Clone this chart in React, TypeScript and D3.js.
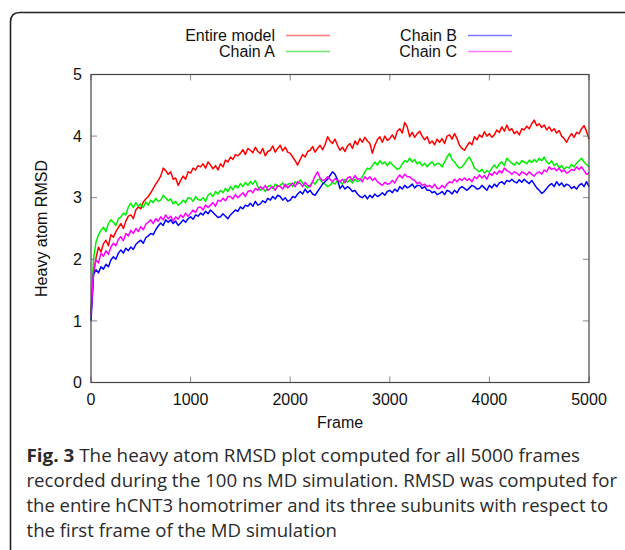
import React from 'react';
import * as d3 from 'd3';

const FRAME_STEP = 25;

const entireModel = [
  1.10, 1.75, 2.02, 2.20, 2.12, 2.25, 2.31, 2.22, 2.40, 2.36, 2.45, 2.52, 2.58, 2.50, 2.62, 2.70, 2.72, 2.66, 2.80, 2.85,
  2.82, 2.93, 2.98, 3.02, 3.08, 3.15, 3.22, 3.28, 3.35, 3.48, 3.44, 3.38, 3.42, 3.30, 3.32, 3.20, 3.28, 3.35, 3.30, 3.42,
  3.40, 3.48, 3.45, 3.52, 3.50, 3.55, 3.48, 3.58, 3.53, 3.47, 3.52, 3.45, 3.55, 3.50, 3.61, 3.58, 3.66, 3.62, 3.70, 3.68,
  3.72, 3.78, 3.70, 3.80, 3.77, 3.73, 3.82, 3.75, 3.72, 3.80, 3.68, 3.75, 3.77, 3.84, 3.74, 3.80, 3.85, 3.76, 3.82, 3.74,
  3.72, 3.66, 3.60, 3.53, 3.62, 3.70, 3.66, 3.75, 3.77, 3.83, 3.74, 3.80, 3.85, 3.78, 3.86, 3.99, 3.92, 3.88, 3.95, 3.85,
  3.77, 3.82, 3.75, 3.84, 3.88, 3.80, 3.92, 3.86, 3.96, 3.90, 3.98, 3.92, 3.88, 3.72, 3.85, 3.94, 3.99, 3.90, 4.00, 3.93,
  3.96, 4.02, 3.95, 4.08, 4.12, 4.05, 4.22, 4.15, 3.99, 4.06, 3.98, 4.04, 4.08, 4.00, 3.94, 3.99, 3.88, 3.92, 3.86, 3.95,
  3.90, 3.96, 3.88, 4.00, 4.02, 3.95, 4.04, 3.96, 3.85, 3.80, 3.77, 3.84, 3.90, 3.86, 3.99, 3.94, 4.02, 3.98, 4.07, 4.00,
  4.04, 3.98, 4.02, 4.10, 4.06, 4.15, 4.08, 4.18, 4.09, 4.12, 4.04, 4.08, 4.02, 4.12, 4.10, 4.16, 4.12, 4.20, 4.26, 4.17,
  4.20, 4.14, 4.18, 4.10, 4.15, 4.08, 4.12, 4.05, 4.09, 4.00, 3.96, 3.90, 3.98, 4.04, 3.98, 4.06, 4.04, 4.12, 4.17, 4.08,
  3.95,
];

const chainA = [
  1.15, 2.00, 2.28, 2.40, 2.47, 2.52, 2.45, 2.58, 2.64, 2.60, 2.55, 2.66, 2.69, 2.75, 2.72, 2.85, 2.91, 2.84, 2.92, 2.86,
  2.90, 2.84, 2.93, 2.88, 2.96, 2.92, 2.99, 2.94, 2.96, 3.04, 3.00, 2.95, 2.98, 2.90, 2.94, 2.88, 2.91, 2.96, 2.92, 3.00,
  2.99, 2.94, 3.02, 2.97, 2.96, 3.00, 2.94, 3.04, 3.07, 3.02, 3.10, 3.06, 3.12, 3.08, 3.15, 3.10, 3.18, 3.13, 3.20, 3.16,
  3.23, 3.18, 3.25, 3.20, 3.26, 3.22, 3.28, 3.18, 3.12, 3.16, 3.10, 3.18, 3.20, 3.15, 3.22, 3.18, 3.20, 3.24, 3.17, 3.22,
  3.23, 3.18, 3.26, 3.22, 3.29, 3.24, 3.20, 3.16, 3.20, 3.26, 3.22, 3.29, 3.30, 3.24, 3.22, 3.18, 3.20, 3.25, 3.22, 3.28,
  3.26, 3.22, 3.30, 3.25, 3.29, 3.24, 3.30, 3.26, 3.28, 3.34, 3.42, 3.48, 3.46, 3.52, 3.58, 3.53, 3.60, 3.55, 3.58, 3.52,
  3.58, 3.54, 3.50, 3.46, 3.48, 3.55, 3.60, 3.58, 3.64, 3.58, 3.62, 3.55, 3.58, 3.52, 3.56, 3.50, 3.55, 3.58, 3.52, 3.56,
  3.55, 3.50, 3.58, 3.66, 3.72, 3.62, 3.58, 3.52, 3.48, 3.50, 3.55, 3.62, 3.66, 3.58, 3.48, 3.45, 3.42, 3.46, 3.40, 3.44,
  3.42, 3.48, 3.53, 3.48, 3.55, 3.58, 3.52, 3.64, 3.60, 3.56, 3.53, 3.58, 3.54, 3.60, 3.58, 3.55, 3.61, 3.57, 3.62, 3.58,
  3.64, 3.60, 3.66, 3.58, 3.55, 3.60, 3.52, 3.56, 3.48, 3.52, 3.46, 3.50, 3.48, 3.54, 3.50, 3.56, 3.60, 3.64, 3.58, 3.54,
  3.50,
];

const chainB = [
  1.00, 1.75, 1.83, 1.78, 1.88, 1.84, 1.92, 1.88, 1.99, 2.04, 2.00, 2.10, 2.15, 2.10, 2.18, 2.14, 2.20, 2.16, 2.24, 2.28,
  2.31, 2.26, 2.35, 2.38, 2.42, 2.40, 2.48, 2.54, 2.59, 2.55, 2.64, 2.60, 2.64, 2.58, 2.62, 2.55, 2.59, 2.64, 2.60, 2.66,
  2.69, 2.65, 2.72, 2.70, 2.75, 2.72, 2.78, 2.74, 2.80, 2.76, 2.72, 2.68, 2.69, 2.74, 2.70, 2.66, 2.72, 2.76, 2.80, 2.78,
  2.85, 2.82, 2.88, 2.86, 2.91, 2.86, 2.94, 2.88, 2.90, 2.95, 2.92, 2.99, 2.96, 3.02, 2.98, 3.04, 3.02, 2.96, 3.00, 2.94,
  2.96, 3.02, 3.00, 3.06, 3.10, 3.06, 3.14, 3.08, 3.12, 3.06, 3.04, 3.10, 3.16, 3.22, 3.26, 3.30, 3.36, 3.42, 3.38, 3.29,
  3.15, 3.20, 3.14, 3.18, 3.15, 3.10, 3.12, 3.06, 3.02, 3.00, 3.04, 2.98, 3.04, 3.00, 3.06, 3.02, 3.04, 3.08, 3.04, 3.10,
  3.12, 3.08, 3.14, 3.10, 3.18, 3.14, 3.20, 3.16, 3.18, 3.22, 3.16, 3.20, 3.20, 3.15, 3.18, 3.12, 3.12, 3.08, 3.10, 3.05,
  3.07, 3.10, 3.05, 3.12, 3.10, 3.06, 3.12, 3.08, 3.15, 3.18, 3.15, 3.12, 3.16, 3.20, 3.18, 3.14, 3.15, 3.20, 3.16, 3.12,
  3.20, 3.16, 3.22, 3.18, 3.24, 3.26, 3.22, 3.28, 3.26, 3.30, 3.26, 3.24, 3.29, 3.25, 3.30, 3.26, 3.23, 3.28, 3.22, 3.16,
  3.12, 3.07, 3.10, 3.15, 3.20, 3.23, 3.18, 3.26, 3.20, 3.24, 3.18, 3.22, 3.20, 3.15, 3.18, 3.14, 3.20, 3.23, 3.18, 3.26,
  3.18,
];

const chainC = [
  1.10, 1.80, 1.99, 1.94, 2.10, 2.05, 2.14, 2.08, 2.20, 2.26, 2.22, 2.32, 2.37, 2.30, 2.42, 2.38, 2.47, 2.42, 2.50, 2.45,
  2.53, 2.48, 2.57, 2.60, 2.64, 2.58, 2.66, 2.62, 2.69, 2.64, 2.72, 2.66, 2.70, 2.62, 2.69, 2.65, 2.72, 2.68, 2.75, 2.70,
  2.75, 2.80, 2.76, 2.84, 2.85, 2.80, 2.88, 2.84, 2.88, 2.92, 2.86, 2.96, 2.94, 2.99, 2.95, 3.02, 3.02, 2.98, 3.05, 3.00,
  3.04, 3.08, 3.02, 3.10, 3.12, 3.08, 3.15, 3.12, 3.18, 3.14, 3.20, 3.12, 3.15, 3.18, 3.12, 3.20, 3.18, 3.14, 3.22, 3.16,
  3.20, 3.24, 3.18, 3.26, 3.23, 3.18, 3.25, 3.20, 3.18, 3.26, 3.35, 3.42, 3.32, 3.28, 3.29, 3.34, 3.30, 3.26, 3.31, 3.28,
  3.26, 3.30, 3.24, 3.32, 3.34, 3.28, 3.36, 3.30, 3.31, 3.26, 3.34, 3.30, 3.34, 3.28, 3.32, 3.26, 3.23, 3.20, 3.25, 3.22,
  3.23, 3.28, 3.24, 3.32, 3.37, 3.32, 3.38, 3.34, 3.34, 3.30, 3.28, 3.23, 3.25, 3.20, 3.22, 3.18, 3.20, 3.16, 3.22, 3.15,
  3.15, 3.20, 3.16, 3.22, 3.26, 3.24, 3.30, 3.26, 3.31, 3.28, 3.32, 3.28, 3.31, 3.26, 3.34, 3.31, 3.37, 3.32, 3.36, 3.30,
  3.40, 3.36, 3.42, 3.38, 3.44, 3.40, 3.48, 3.44, 3.42, 3.38, 3.42, 3.40, 3.36, 3.42, 3.40, 3.37, 3.42, 3.38, 3.35, 3.40,
  3.42, 3.38, 3.45, 3.42, 3.50, 3.46, 3.48, 3.44, 3.48, 3.42, 3.45, 3.40, 3.42, 3.46, 3.44, 3.50, 3.46, 3.50, 3.44, 3.38,
  3.40,
];

const xTicks = [0, 1000, 2000, 3000, 4000, 5000];
const yTicks = [0, 1, 2, 3, 4, 5];

const captionLines = [
  'The heavy atom RMSD plot computed for all 5000 frames',
  'recorded during the 100 ns MD simulation. RMSD was computed for',
  'the entire hCNT3 homotrimer and its three subunits with respect to',
  'the first frame of the MD simulation',
];
// right edge of each caption line in the figure
const captionEnds = [580, 617, 608, 337];

const series = [
  { name: 'Entire model', values: entireModel, color: '#ff0000', key: '#ff7a7a', col: 0, row: 0 },
  { name: 'Chain A', values: chainA, color: '#00ee00', key: '#6ee86e', col: 0, row: 1 },
  { name: 'Chain B', values: chainB, color: '#0000ff', key: '#7a7aff', col: 1, row: 0 },
  { name: 'Chain C', values: chainC, color: '#ff00ff', key: '#ff7aff', col: 1, row: 1 },
];

const W = 625, H = 550;
const plot = { left: 91, right: 589, top: 74.5, bottom: 382.5 };
const chartFont = '"Liberation Sans", Arial, sans-serif';
const captionX = 26.5;

export default function App() {
  const x = d3.scaleLinear().domain([0, 5000]).range([plot.left, plot.right]);
  const y = d3.scaleLinear().domain([0, 5]).range([plot.bottom, plot.top]);
  const line = d3.line<number>().x((_, i) => x(i * FRAME_STEP)).y(d => y(d));

  const legendX = [275, 457];
  const legendY = [35.5, 51.5];

  return (
    <svg width={W} height={H} style={{ position: 'fixed', left: 0, top: 0, background: '#fff' }}>
      {/* outer panel border */}
      <path d={`M10.5,${H} V22 Q10.5,12.5 20,12.5 H${W}`} fill="none" stroke="#222" strokeWidth={1.6} />

      {/* legend */}
      <g fontFamily={chartFont} fontSize={16} fill="#111">
        {series.map(s => (
          <g key={s.name}>
            <text x={legendX[s.col]} y={legendY[s.row]} dy="0.35em" textAnchor="end">{s.name}</text>
            <line x1={legendX[s.col] + 11} x2={legendX[s.col] + 55} y1={legendY[s.row]} y2={legendY[s.row]}
              stroke={s.key} strokeWidth={1.4} />
          </g>
        ))}
      </g>

      {/* series */}
      <g fill="none" strokeWidth={1.5} strokeLinejoin="round">
        {series.map(s => (
          <path key={s.name} d={line(s.values) ?? ''} stroke={s.color} />
        ))}
      </g>

      {/* ticks, mirrored on all sides */}
      <g stroke="#888" strokeWidth={1}>
        {xTicks.map(t => (
          <g key={t}>
            <line x1={x(t)} x2={x(t)} y1={plot.bottom} y2={plot.bottom - 6} />
            <line x1={x(t)} x2={x(t)} y1={plot.top} y2={plot.top + 6} />
          </g>
        ))}
        {yTicks.map(t => (
          <g key={t}>
            <line x1={plot.left} x2={plot.left + 6} y1={y(t)} y2={y(t)} />
            <line x1={plot.right} x2={plot.right - 6} y1={y(t)} y2={y(t)} />
          </g>
        ))}
      </g>
      <rect x={plot.left} y={plot.top} width={plot.right - plot.left} height={plot.bottom - plot.top}
        fill="none" stroke="#444" strokeWidth={1.2} />

      {/* tick labels + axis titles */}
      <g fontFamily={chartFont} fontSize={16} fill="#111">
        {xTicks.map(t => (
          <text key={t} x={x(t)} y={405} textAnchor="middle">{t}</text>
        ))}
        {yTicks.map(t => (
          <text key={t} x={82} y={y(t)} dy="0.35em" textAnchor="end">{t}</text>
        ))}
        <text x={(plot.left + plot.right) / 2} y={428} textAnchor="middle">Frame</text>
        <text transform={`translate(47,${(plot.top + plot.bottom) / 2}) rotate(-90)`} textAnchor="middle">
          Heavy atom RMSD
        </text>
      </g>

      {/* caption */}
      <g fontFamily='"Open Sans", sans-serif' fontSize={18.5} fill="#2a2a2a">
        {captionLines.map((c, i) => (
          <text key={i} x={captionX} y={461.5 + i * 25.2}
            textLength={captionEnds[i] - captionX} lengthAdjust="spacingAndGlyphs">
            {i === 0 && <tspan fontWeight={700}>Fig. 3 </tspan>}
            {c}
          </text>
        ))}
      </g>
    </svg>
  );
}
